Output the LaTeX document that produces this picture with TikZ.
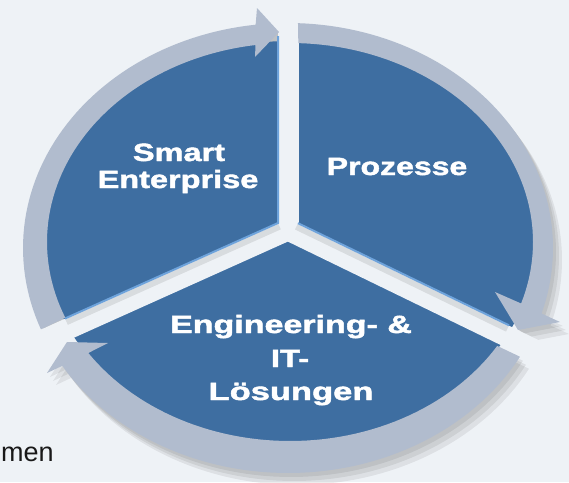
\documentclass[tikz,border=0pt]{standalone}
\usepackage{fontspec}
\setmainfont{Liberation Sans}
\newfontfamily\lblfont[BoldFeatures={FakeBold=1.5}]{Liberation Sans}
\usepackage{graphicx}
\usetikzlibrary{calc}
\definecolor{bg}{HTML}{EEF2F6}
\definecolor{segblue}{HTML}{3E6EA1}
\definecolor{ringc}{HTML}{B1BCCE}
\definecolor{bevelc}{HTML}{6EA3DB}
\newcommand\bandA{plot[domain=0:1,samples=60]({288+265*cos(201.2+(96.94-201.2)*\x)},{248-225*sin(201.2+(96.94-201.2)*\x)}) -- (257,8) -- (279,32) -- (255,57) -- plot[domain=0:1,samples=60]({290+243*cos(98.16+(202.4-98.16)*\x)},{242-199*sin(98.16+(202.4-98.16)*\x)}) -- cycle}
\newcommand\bandB{plot[domain=0:1,samples=60]({288+265*cos(87.84+(-17-87.84)*\x)},{248-225*sin(87.84+(-17-87.84)*\x)}) -- (560,322) -- (518,330) -- (495,292) -- plot[domain=0:1,samples=60]({290+243*cos(-18+(88.11+18)*\x)},{242-199*sin(-18+(88.11+18)*\x)}) -- cycle}
\newcommand\bandC{plot[domain=0:1,samples=60]({288+265*cos(331.1+(211.5-331.1)*\x)},{248-225*sin(331.1+(211.5-331.1)*\x)}) -- (47,373) -- (67,342) -- (108,343) -- plot[domain=0:1,samples=60]({290+243*cos(213.9+(328.6-213.9)*\x)},{242-199*sin(213.9+(328.6-213.9)*\x)}) -- cycle}
\begin{document}
\begin{tikzpicture}[x=1pt,y=-1pt,
  ringband/.style={fill=ringc},
  segfill/.style={fill=segblue},
  gapline/.style={draw=bg,line width=21pt},
  bevelline/.style={draw=bevelc,line width=2pt},
  gapshade/.style={draw=black,opacity=0.09,line width=6pt},
  shadowfill/.style={fill=black,opacity=0.07},
  lbl/.style={text=white,inner sep=0pt,font=\lblfont\bfseries\fontsize{25}{25}\selectfont}]
\useasboundingbox (0,0) rectangle (569,482);
\fill[bg] (0,0) rectangle (569,482);
% shadows
\foreach \dx/\dy in {3/4,6/8,9/12}{
  \fill[shadowfill,shift={(\dx,\dy)}] \bandA;
  \fill[shadowfill,shift={(\dx,\dy)}] \bandB;
  \fill[shadowfill,shift={(\dx,\dy)}] \bandC;
}
% blue segments
\fill[segfill] (290,242) ellipse [x radius=245pt, y radius=201pt];
\coordinate (C) at (288,230);
\coordinate (gtop) at (288,-5);
\coordinate (gleft) at (-13,365.3);
\coordinate (gright) at (584.7,374.2);
\draw[gapline] (C) -- (gtop);
\draw[gapline] (C) -- (gleft);
\draw[gapline] (C) -- (gright);
\fill[bg] (C) circle[radius=10pt];
% shading in the gaps below the upper segments
\coordinate (sl1) at (279.6,226.6);
\coordinate (sl2) at (66.6,322.1);
\coordinate (sr1) at (296.3,226.8);
\coordinate (sr2) at (507.3,328.9);
\draw[gapshade] (sl1) -- (sl2);
\draw[gapshade] (sr1) -- (sr2);
% bevel edges
\coordinate (lt) at (278,36);
\coordinate (lc) at (278,223);
\coordinate (lb) at (65,318.5);
\coordinate (rc) at (298,223.2);
\coordinate (rb) at (509,325.3);
\draw[bevelline] (lt) -- (lc) -- (lb);
\draw[bevelline] (rc) -- (rb);
% ring arrows
\fill[ringband] \bandA;
\fill[ringband] \bandB;
\fill[ringband] \bandC;
% labels
\node[lbl,anchor=base] (smart) at (179,161) {\scalebox{1.3}[1]{Smart}};
\node[lbl,anchor=base] (enter) at (178,188) {\scalebox{1.3}[1]{Enterprise}};
\node[lbl,anchor=base] (proz) at (397,175) {\scalebox{1.28}[1]{Prozesse}};
\node[lbl,anchor=base] (eng) at (291,333) {\scalebox{1.36}[1]{Engineering- \&}};
\node[lbl,anchor=base] (it) at (290,367) {\scalebox{1.31}[1]{IT-}};
\node[lbl,anchor=base] (loes) at (291,400) {\scalebox{1.38}[1]{Lösungen}};
\node[anchor=base west,inner sep=0pt,text=black!90,font=\fontsize{27}{27}\selectfont] (men) at (1,461) {men};
\end{tikzpicture}
\end{document}
